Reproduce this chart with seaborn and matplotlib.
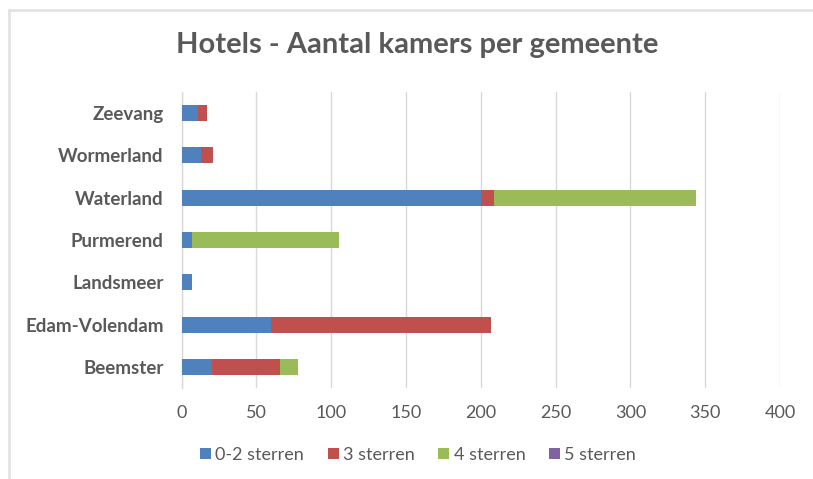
import matplotlib
matplotlib.use("Agg")
import matplotlib.pyplot as plt
import seaborn as sns
import pandas as pd
import numpy as np
from matplotlib.patches import Patch
from matplotlib.lines import Line2D

categories = ["Zeevang", "Wormerland", "Waterland", "Purmerend", "Landsmeer", "Edam-Volendam", "Beemster"]
series_names = ["0-2 sterren", "3 sterren", "4 sterren", "5 sterren"]
s_0_2 = [11, 13, 200, 7, 7, 60, 20]
s_3 = [6, 8, 9, 0, 0, 147, 46]
s_4 = [0, 0, 135, 98, 0, 0, 12]
s_5 = [0, 0, 0, 0, 0, 0, 0]
x_ticks = [0, 50, 100, 150, 200, 250, 300, 350, 400]
colors = ["#4F81BD", "#C0504D", "#9BBB59", "#8064A2"]

sns.set_theme(style="white")
plt.rcParams["font.family"] = ["Lato", "DejaVu Sans"]

text_color = "#595959"
grid_color = "#D9D9D9"

fig = plt.figure(figsize=(8.13, 4.79), dpi=100)
ax = fig.add_axes([181.7 / 813, 1 - 388 / 479, (780 - 181.7) / 813, (388 - 92) / 479])

series = [s_0_2, s_3, s_4, s_5]
cum = np.cumsum(np.array(series), axis=0)
# draw cumulative totals from largest down so stacks appear
for i in range(len(series) - 1, -1, -1):
    df = pd.DataFrame({"gemeente": categories, "waarde": cum[i]})
    sns.barplot(data=df, x="waarde", y="gemeente", order=categories, color=colors[i],
                saturation=1, width=0.38, orient="h", linewidth=0, ax=ax, zorder=3)

ax.set_xlim(0, 400)
ax.set_ylim(len(categories) - 0.5, -0.5)
ax.set_xticks(x_ticks)
ax.set_xticklabels([str(t) for t in x_ticks])
ax.set_xlabel("")
ax.set_ylabel("")
ax.grid(axis="x", color=grid_color, linewidth=1, zorder=0)
ax.grid(axis="y", visible=False)
for side in ["top", "right", "bottom"]:
    ax.spines[side].set_visible(False)
ax.spines["left"].set_color(grid_color)
ax.spines["left"].set_linewidth(1)
ax.tick_params(axis="x", length=0, pad=12, labelsize=13, labelcolor=text_color)
ax.tick_params(axis="y", length=0, pad=13, labelsize=13.5, labelcolor=text_color)
for lbl in ax.get_yticklabels():
    lbl.set_fontweight("bold")

fig.text(417 / 813, 1 - 45 / 479, "Hotels - Aantal kamers per gemeente", ha="center", va="center",
         fontsize=21, fontweight="bold", color=text_color)

handles = [Patch(facecolor=c, edgecolor="none") for c in colors]
fig.legend(handles, series_names, loc="center", bbox_to_anchor=(418 / 813, 1 - 455 / 479),
           ncol=4, frameon=False, fontsize=13, labelcolor=text_color, handlelength=0.6,
           handleheight=0.6, handletextpad=0.25, columnspacing=1.3)

# outer chart frame
fig.add_artist(Line2D([9 / 813, 1.0], [1 - 10 / 479, 1 - 10 / 479], color="#E3E3E3", linewidth=2,
                      transform=fig.transFigure))
fig.add_artist(Line2D([9 / 813, 9 / 813], [0.0, 1 - 10 / 479], color="#E3E3E3", linewidth=2,
                      transform=fig.transFigure))

fig.savefig("out.png", dpi=100)
